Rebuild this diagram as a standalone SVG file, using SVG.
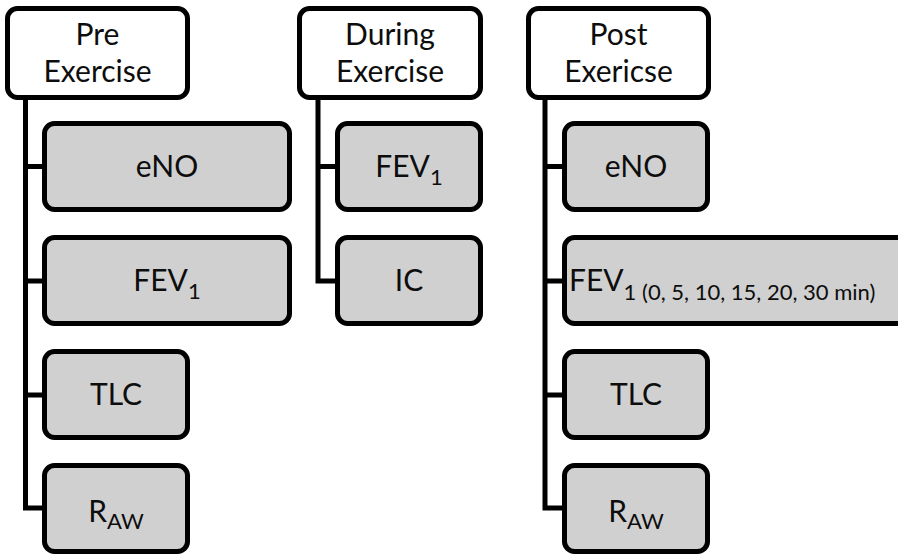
<svg xmlns="http://www.w3.org/2000/svg" width="898" height="556" viewBox="0 0 898 556">
<style>
.hdr{fill:#ffffff;stroke:#000;stroke-width:5}
.box{fill:#d0d0d0;stroke:#000;stroke-width:5}
.t{font-family:Lato,"Open Sans","Liberation Sans",sans-serif;font-size:30px;fill:#0d0d0d;text-anchor:middle}
.s{font-size:22px}
.conn{fill:none;stroke:#000;stroke-width:5;stroke-linejoin:miter}
</style>
<rect width="898" height="556" fill="#fff"/>
<g id="connectors">
<path class="conn" d="M25.5 98 V508 H44 M25.5 166.5 H44 M25.5 281 H44 M25.5 395 H44"/>
<path class="conn" d="M318 98 V281 H337 M318 166.5 H337"/>
<path class="conn" d="M545 98 V508 H564 M545 166.5 H564 M545 281 H564 M545 395 H564"/>
</g>
<g id="pre">
<rect class="hdr" x="7.5" y="8.5" width="180" height="89" rx="10"/>
<text class="t" x="97.5" y="45">Pre</text>
<text class="t" x="97.5" y="82">Exercise</text>
</g>
<g id="pre-eno">
<rect class="box" x="44.5" y="123.5" width="245" height="86" rx="10"/>
<text class="t" x="167" y="177">eNO</text>
</g>
<g id="pre-fev1">
<rect class="box" x="44.5" y="237.5" width="245" height="86" rx="10"/>
<text class="t" x="167" y="291">FEV<tspan class="s" dy="8">1</tspan></text>
</g>
<g id="pre-tlc">
<rect class="box" x="44.5" y="351.5" width="143" height="86" rx="10"/>
<text class="t" x="116" y="405">TLC</text>
</g>
<g id="pre-raw">
<rect class="box" x="44.5" y="465.5" width="143" height="86" rx="10"/>
<text class="t" x="116" y="522">R<tspan class="s" dy="7">AW</tspan></text>
</g>
<g id="during">
<rect class="hdr" x="299.5" y="8.5" width="181" height="89" rx="10"/>
<text class="t" x="390" y="45">During</text>
<text class="t" x="390" y="82">Exercise</text>
</g>
<g id="during-fev1">
<rect class="box" x="337.5" y="123.5" width="143" height="86" rx="10"/>
<text class="t" x="409" y="177">FEV<tspan class="s" dy="8">1</tspan></text>
</g>
<g id="during-ic">
<rect class="box" x="337.5" y="237.5" width="143" height="86" rx="10"/>
<text class="t" x="409" y="291">IC</text>
</g>
<g id="post">
<rect class="hdr" x="528.5" y="8.5" width="180" height="89" rx="10"/>
<text class="t" x="618.5" y="45">Post</text>
<text class="t" x="618.5" y="82">Exericse</text>
</g>
<g id="post-eno">
<rect class="box" x="564.5" y="123.5" width="143" height="86" rx="10"/>
<text class="t" x="636" y="177">eNO</text>
</g>
<g id="post-fev1">
<rect class="box" x="564.5" y="237.5" width="360" height="86" rx="10"/>
<text class="t" x="569" y="291" style="text-anchor:start">FEV<tspan class="s" dy="9">1 (0, 5, 10, 15, 20, 30 min)</tspan></text>
</g>
<g id="post-tlc">
<rect class="box" x="564.5" y="351.5" width="143" height="86" rx="10"/>
<text class="t" x="636" y="405">TLC</text>
</g>
<g id="post-raw">
<rect class="box" x="564.5" y="465.5" width="143" height="86" rx="10"/>
<text class="t" x="636" y="522">R<tspan class="s" dy="7">AW</tspan></text>
</g>
</svg>
